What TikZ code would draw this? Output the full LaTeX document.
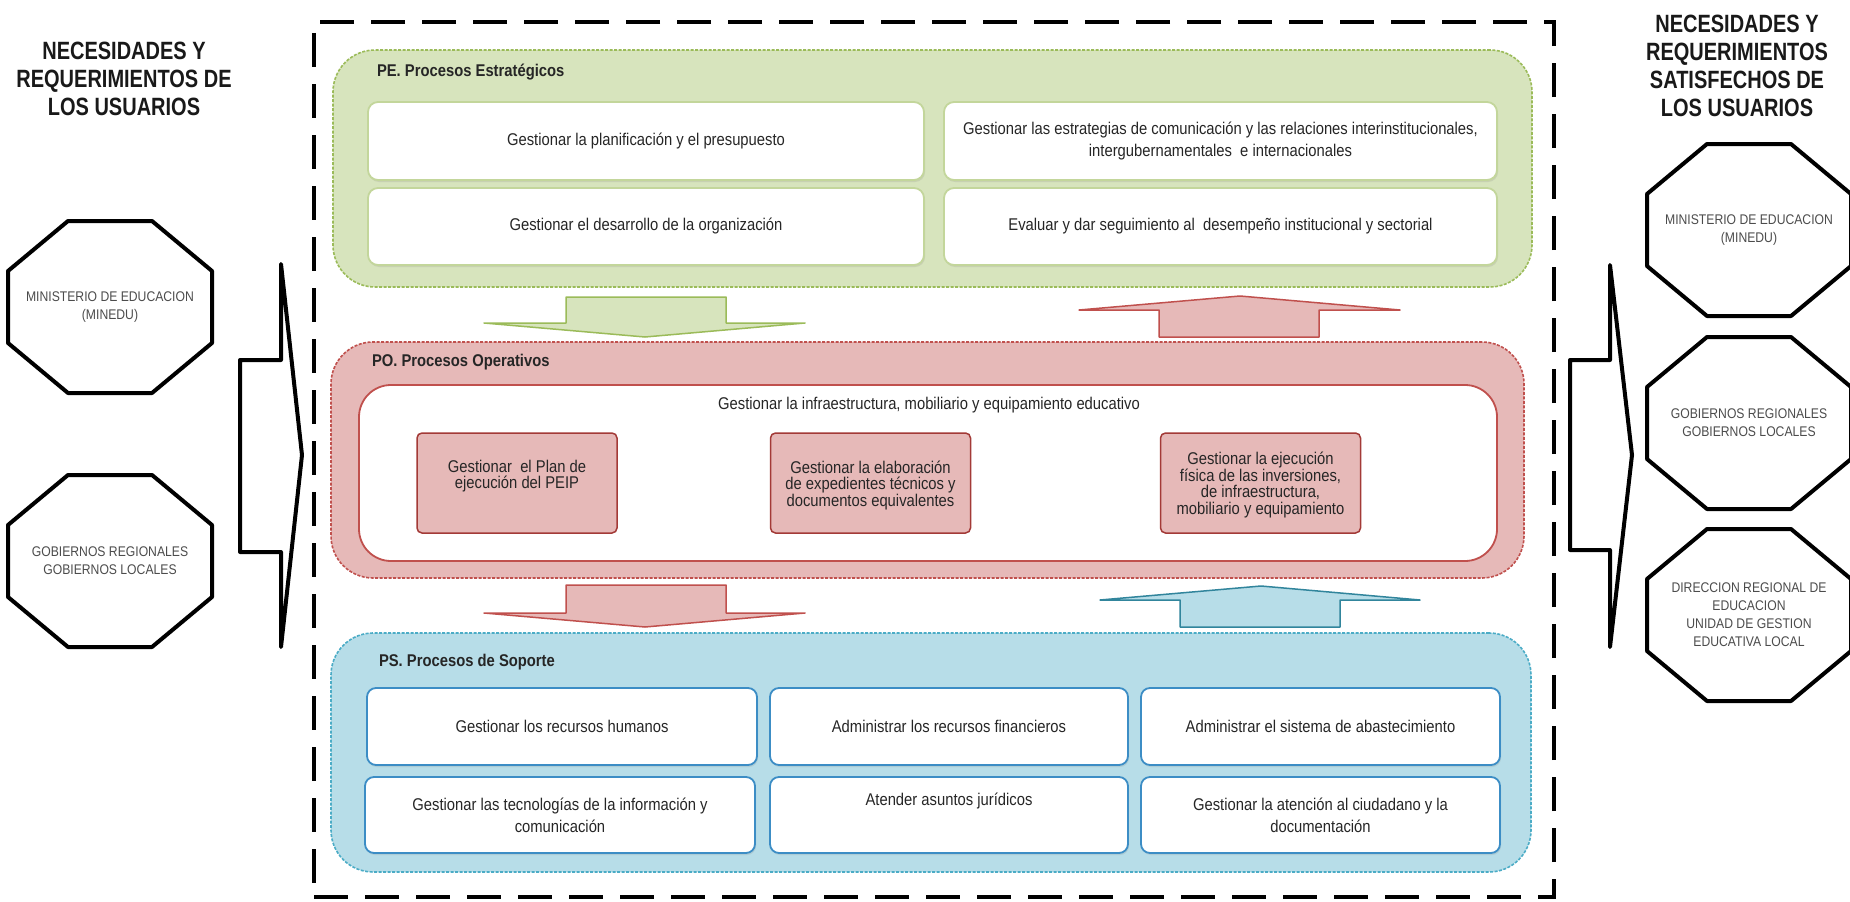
\documentclass[tikz,border=0pt]{standalone}
\usepackage{fontspec}
\setmainfont{Liberation Sans}
\newfontfamily\hdfont{Liberation Sans}[FakeStretch=0.8]
\newfontfamily\nrfont{Liberation Sans}[FakeStretch=0.87]
\usetikzlibrary{shadows}
\definecolor{pegreen}{HTML}{D7E4BD}
\definecolor{pegreenline}{HTML}{9BBB59}
\definecolor{peboxline}{HTML}{C3D69B}
\definecolor{pored}{HTML}{E6B9B8}
\definecolor{poredline}{HTML}{C0504D}
\definecolor{pobox}{HTML}{A33A37}
\definecolor{psblue}{HTML}{B7DDE8}
\definecolor{psline}{HTML}{4BACC6}
\definecolor{psboxline}{HTML}{3C8DC5}
\definecolor{psarrow}{HTML}{31859C}
\newcommand\octpath[1]{\draw[oct] (#1.center) ++(-42,-86) -- ++(84,0) -- ++(60,50) -- ++(0,72) -- ++(-60,50) -- ++(-84,0) -- ++(-60,-50) -- ++(0,-72) -- cycle;}
\begin{document}
\begin{tikzpicture}[x=1pt,y=-1pt,
  every node/.style={inner sep=0pt, outer sep=0pt},
  header/.style={align=center, text=black!90, font=\hdfont\bfseries\fontsize{25}{28}\selectfont},
  octtext/.style={align=center, text=black!70, font=\nrfont\fontsize{14}{18}\selectfont, minimum width=204, minimum height=172},
  oct/.style={line width=4pt, line join=round},
  bigarrow/.style={line width=4pt, line join=round, fill=white},
  frame/.style={line width=4pt, dash pattern=on 34pt off 17pt},
  panel/.style={line width=1.6pt, dash pattern=on 3pt off 1.5pt, rounded corners=42},
  ptitle/.style={anchor=west, font=\nrfont\bfseries\fontsize{17}{18}\selectfont, text=black!85},
  btext/.style={align=center, text=black!85, font=\nrfont\fontsize{17}{22}\selectfont},
  gbox/.style={btext, draw=peboxline, fill=white, rounded corners=10, line width=1.8pt,
    drop shadow={opacity=0.18, shadow xshift=1pt, shadow yshift=-2pt}},
  bbox/.style={btext, draw=psboxline, fill=white, rounded corners=9, line width=1.8pt,
    drop shadow={opacity=0.18, shadow xshift=1pt, shadow yshift=-2pt}},
  pbox/.style={draw=pobox, fill=pored, rounded corners=5, line width=1.5pt, minimum width=200, minimum height=100},
  ptext/.style={align=center, text=black!85, font=\nrfont\fontsize{17}{16.5}\selectfont},
  garrow/.style={fill=pegreen, draw=pegreenline, line width=1.5pt, line join=round},
  rarrow/.style={fill=pored, draw=poredline, line width=1.5pt, line join=round},
  barrow/.style={fill=psblue, draw=psarrow, line width=1.5pt, line join=round}
]
\useasboundingbox (0,0) rectangle (1850,902);
\fill[white] (0,0) rectangle (1850,902);

% headers
\node[header] (hl) at (124,79) {NECESIDADES Y\\REQUERIMIENTOS DE\\LOS USUARIOS};
\node[header] (hr) at (1737,65.5) {NECESIDADES Y\\REQUERIMIENTOS\\SATISFECHOS DE\\LOS USUARIOS};

% left octagons
\node[octtext] (l1) at (110,307) {MINISTERIO DE EDUCACION\\(MINEDU)};
\node[octtext] (l2) at (110,561) {GOBIERNOS REGIONALES\\GOBIERNOS LOCALES};
\octpath{l1}
\octpath{l2}

% right octagons
\node[octtext] (r1) at (1749,230) {MINISTERIO DE EDUCACION\\(MINEDU)};
\node[octtext] (r2) at (1749,423) {GOBIERNOS REGIONALES\\GOBIERNOS LOCALES};
\node[octtext] (r3) at (1749,615) {DIRECCION REGIONAL DE\\EDUCACION\\UNIDAD DE GESTION\\EDUCATIVA LOCAL};
\octpath{r1}
\octpath{r2}
\octpath{r3}

% big arrows
\coordinate (la) at (240,455);
\coordinate (ra) at (1570,455);
\draw[bigarrow] (la) ++(0,-95) -- ++(41,0) -- ++(0,-96) -- ++(21,191) -- ++(-21,192) -- ++(0,-95) -- ++(-41,0) -- cycle;
\draw[bigarrow] (ra) ++(0,-95) -- ++(40,0) -- ++(0,-95) -- ++(22,190) -- ++(-22,192) -- ++(0,-97) -- ++(-40,0) -- cycle;

% outer dashed frame
\node[draw, frame, minimum width=1240, minimum height=875] (fr) at (934,459.5) {};

% PE panel
\node[panel, draw=pegreenline, fill=pegreen, minimum width=1199, minimum height=237] (pe) at (932.5,168.5) {};
\node[ptitle] (pet) at (377,72) {PE. Procesos Estratégicos};
\node[gbox, minimum width=556, minimum height=78] (g1) at (646,141) {Gestionar la planificación y el presupuesto};
\node[gbox, minimum width=553, minimum height=78] (g2) at (1220.5,141) {Gestionar las estrategias de comunicación y las relaciones interinstitucionales,\\intergubernamentales \ e internacionales};
\node[gbox, minimum width=556, minimum height=77] (g3) at (646,226.5) {Gestionar el desarrollo de la organización};
\node[gbox, minimum width=553, minimum height=77] (g4) at (1220.5,226.5) {Evaluar y dar seguimiento al \ desempeño institucional y sectorial};

% PO panel
\node[panel, draw=poredline, fill=pored, minimum width=1193, minimum height=236] (po) at (927.5,460) {};
\node[ptitle] (pot) at (372,362) {PO. Procesos Operativos};
\node[draw=poredline, fill=white, rounded corners=32, line width=1.8pt, minimum width=1138, minimum height=176] (poin) at (928,473) {};
\node[btext] (point) at (929,405) {Gestionar la infraestructura, mobiliario y equipamiento educativo};
\node[pbox] (p1) at (517,483) {};
\node[pbox] (p2) at (870.5,483) {};
\node[pbox] (p3) at (1260.5,483) {};
\node[ptext] (p1t) at (517,476) {Gestionar \ el Plan de\\ejecución del PEIP};
\node[ptext] (p2t) at (870.5,485) {Gestionar la elaboración\\de expedientes técnicos y\\documentos equivalentes};
\node[ptext] (p3t) at (1260.5,485) {Gestionar la ejecución\\física de las inversiones,\\de infraestructura,\\mobiliario y equipamiento};

% PS panel
\node[panel, draw=psline, fill=psblue, minimum width=1200, minimum height=239] (ps) at (931,752.5) {};
\node[ptitle] (pst) at (379,662) {PS. Procesos de Soporte};
\node[bbox, minimum width=390, minimum height=77] (b1) at (562,726.5) {Gestionar los recursos humanos};
\node[bbox, minimum width=358, minimum height=77] (b2) at (949,726.5) {Administrar los recursos financieros};
\node[bbox, minimum width=359, minimum height=77] (b3) at (1320.5,726.5) {Administrar el sistema de abastecimiento};
\node[bbox, minimum width=390, minimum height=76] (b4) at (560,815) {Gestionar las tecnologías de la información y\\comunicación};
\node[bbox, minimum width=358, minimum height=76] (b5) at (949,815) {Atender asuntos jurídicos\\[10pt]\mbox{}};
\node[bbox, minimum width=359, minimum height=76] (b6) at (1320.5,815) {Gestionar la atención al ciudadano y la\\documentación};

% block arrows between panels
\coordinate (ga) at (645,297);
\draw[garrow] (ga) ++(-79,0) -- ++(160,0) -- ++(0,26) -- ++(79,0) -- ++(-160,14) -- ++(-161,-14) -- ++(82,0) -- cycle;
\coordinate (ra1) at (1240,337);
\draw[rarrow] (ra1) ++(-81,0) -- ++(160,0) -- ++(0,-27) -- ++(81,0) -- ++(-160,-14) -- ++(-161,14) -- ++(80,0) -- cycle;
\coordinate (ra2) at (645,585);
\draw[rarrow] (ra2) ++(-79,0) -- ++(160,0) -- ++(0,28) -- ++(79,0) -- ++(-160,14) -- ++(-161,-14) -- ++(82,0) -- cycle;
\coordinate (ba) at (1261,627);
\draw[barrow] (ba) ++(-81,0) -- ++(160,0) -- ++(0,-27) -- ++(80,0) -- ++(-159,-14) -- ++(-161,14) -- ++(80,0) -- cycle;
\end{tikzpicture}
\end{document}
